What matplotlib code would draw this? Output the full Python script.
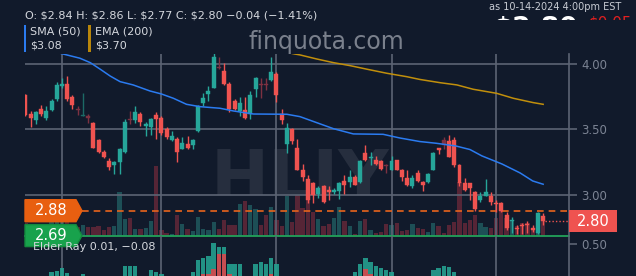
import numpy as np
import matplotlib.pyplot as plt
from matplotlib.patches import Rectangle, Polygon
from matplotlib.transforms import Bbox, TransformedBbox, IdentityTransform

plt.rcParams['text.parse_math'] = False

# daily candles HLIY, 2024-05-22 .. 2024-10-14 (index 0..99)
opens = [3.76, 3.62, 3.57, 3.66, 3.59, 3.65, 3.73, 3.83, 3.85, 3.75,
         3.66, 3.60, 3.60, 3.55, 3.42, 3.33, 3.26, 3.23, 3.25, 3.33,
         3.58, 3.57, 3.62, 3.53, 3.52, 3.61, 3.59, 3.50, 3.42, 3.43,
         3.35, 3.39, 3.38, 3.49, 3.70, 3.77, 3.82, 3.98, 3.95, 3.85,
         3.72, 3.64, 3.65, 3.62, 3.81, 3.85, 3.85, 3.88, 3.92, 3.62,
         3.39, 3.50, 3.36, 3.19, 3.12, 3.09, 3.01, 3.07, 3.04, 3.02,
         3.03, 3.11, 3.10, 3.14, 3.10, 3.32, 3.28, 3.27, 3.26, 3.23,
         3.19, 3.27, 3.19, 3.13, 3.07, 3.17, 3.10, 3.10, 3.19, 3.36,
         3.42, 3.41, 3.42, 3.23, 3.09, 3.09, 3.02, 2.96, 2.99, 2.99,
         2.94, 2.94, 2.85, 2.80, 2.75, 2.77, 2.78, 2.75, 2.71, 2.84]
highs = [3.77, 3.64, 3.64, 3.69, 3.68, 3.73, 3.86, 3.89, 3.91, 3.76,
         3.68, 3.78, 3.62, 3.56, 3.43, 3.34, 3.28, 3.26, 3.36, 3.58,
         3.64, 3.68, 3.63, 3.56, 3.59, 3.63, 3.60, 3.52, 3.49, 3.44,
         3.44, 3.45, 3.43, 3.69, 3.78, 3.83, 4.08, 4.05, 4.01, 3.86,
         3.73, 3.75, 3.75, 3.79, 3.90, 3.89, 3.89, 4.05, 3.94, 3.66,
         3.55, 3.51, 3.43, 3.24, 3.15, 3.10, 3.07, 3.08, 3.07, 3.05,
         3.10, 3.15, 3.19, 3.15, 3.27, 3.38, 3.33, 3.30, 3.27, 3.24,
         3.30, 3.27, 3.20, 3.19, 3.15, 3.19, 3.11, 3.17, 3.33, 3.36,
         3.44, 3.46, 3.44, 3.24, 3.13, 3.09, 3.03, 3.02, 3.12, 3.02,
         2.96, 2.95, 2.87, 2.83, 2.77, 2.79, 2.80, 2.77, 2.87, 2.86]
lows = [3.60, 3.52, 3.54, 3.60, 3.57, 3.64, 3.72, 3.82, 3.72, 3.66,
        3.61, 3.60, 3.55, 3.36, 3.32, 3.28, 3.19, 3.16, 3.16, 3.32,
        3.54, 3.55, 3.53, 3.45, 3.46, 3.43, 3.46, 3.43, 3.41, 3.25,
        3.35, 3.35, 3.35, 3.48, 3.68, 3.72, 3.82, 3.96, 3.84, 3.63,
        3.65, 3.60, 3.58, 3.58, 3.75, 3.74, 3.80, 3.87, 3.71, 3.54,
        3.32, 3.39, 3.19, 3.11, 2.94, 2.94, 2.98, 2.94, 2.96, 3.01,
        2.97, 3.01, 3.06, 3.08, 3.09, 3.26, 3.23, 3.23, 3.19, 3.17,
        3.19, 3.19, 3.11, 3.07, 3.05, 3.10, 3.03, 3.09, 3.19, 3.31,
        3.35, 3.29, 3.21, 3.07, 3.03, 2.96, 2.88, 2.95, 2.99, 2.92,
        2.87, 2.87, 2.73, 2.71, 2.70, 2.70, 2.71, 2.72, 2.70, 2.77]
closes = [3.61, 3.59, 3.63, 3.62, 3.64, 3.72, 3.84, 3.85, 3.73, 3.69,
          3.65, 3.61, 3.59, 3.36, 3.33, 3.29, 3.21, 3.25, 3.35, 3.56,
          3.57, 3.63, 3.56, 3.54, 3.58, 3.58, 3.47, 3.44, 3.45, 3.33,
          3.40, 3.36, 3.42, 3.68, 3.74, 3.79, 4.05, 3.97, 3.85, 3.66,
          3.66, 3.70, 3.59, 3.76, 3.89, 3.84, 3.84, 3.94, 3.76, 3.57,
          3.51, 3.41, 3.19, 3.14, 2.96, 3.00, 3.05, 2.95, 3.02, 3.04,
          3.09, 3.08, 3.14, 3.08, 3.26, 3.27, 3.29, 3.24, 3.20, 3.22,
          3.26, 3.19, 3.14, 3.08, 3.13, 3.11, 3.08, 3.16, 3.32, 3.34,
          3.38, 3.29, 3.23, 3.09, 3.04, 3.05, 2.89, 2.99, 3.02, 2.95,
          2.93, 2.88, 2.75, 2.81, 2.74, 2.76, 2.77, 2.73, 2.86, 2.80]
# candles drawn in a faded colour
faded = [10, 11, 12, 20, 37, 45, 46, 69, 80]

# volume (thousand shares)
volumes = [130, 110, 100, 90, 110, 140, 200, 150, 190, 120,
           90, 110, 93, 93, 103, 60, 87, 100, 443, 167,
           180, 70, 70, 77, 150, 703, 60, 30, 20, 210,
           120, 70, 53, 187, 70, 60, 143, 70, 160, 110,
           110, 320, 353, 310, 270, 110, 210, 287, 160, 103,
           403, 143, 463, 280, 360, 237, 170, 103, 120, 180,
           287, 147, 103, 20, 153, 170, 60, 30, 37, 120,
           110, 130, 53, 60, 120, 80, 70, 43, 130, 103,
           27, 110, 143, 543, 127, 160, 210, 127, 93, 77,
           177, 267, 177, 160, 100, 127, 127, 77, 200, 160]

# moving averages (index, value)
sma_idx = [0, 6.6, 10.4, 12.4, 14.3, 16.2, 18.1, 20.6, 23.8, 26.0, 28.3, 30.8,
           33.4, 37.2, 39.8, 43.6, 50.0, 52.5, 55.7, 58.9, 62.7, 68.4, 71.6,
           75.4, 78.5, 82.3, 85.0, 87.3, 91.1, 94.6, 97.0, 99.0]
sma_val = [4.16, 4.082, 4.044, 4.010, 3.960, 3.908, 3.865, 3.840, 3.794, 3.771,
           3.738, 3.692, 3.674, 3.662, 3.641, 3.618, 3.616, 3.598, 3.552, 3.506,
           3.466, 3.463, 3.435, 3.408, 3.395, 3.374, 3.347, 3.298, 3.237, 3.168,
           3.107, 3.082]
ema_idx = [45, 51.5, 52.5, 55.7, 58.9, 62.1, 65.3, 69.1, 72.9, 75.4, 79.3,
           82.5, 85.6, 90.1, 93.3, 97.1, 99.0]
ema_val = [4.13, 4.076, 4.069, 4.038, 4.010, 3.987, 3.960, 3.929, 3.903, 3.882,
           3.857, 3.840, 3.807, 3.776, 3.738, 3.705, 3.692]

# elder ray (bull / bear power), only the tall ones show
er_idx = [5, 6, 7, 8, 11, 19, 20, 21, 24, 25, 26, 32, 33, 34, 35, 36, 37, 38,
          39, 40, 41, 44, 45, 46, 47, 48, 63, 64, 65, 66, 67, 68, 69, 70,
          78, 79, 80, 81, 82]
er_bull = [0.22, 0.23, 0.26, 0.21, 0.20, 0.28, 0.28, 0.28, 0.24, 0.22, 0.20,
           0.22, 0.34, 0.36, 0.38, 0.51, 0.47, 0.47, 0.30, 0.30, 0.30, 0.30,
           0.32, 0.30, 0.36, 0.30, 0.22, 0.30, 0.36, 0.32, 0.28, 0.26, 0.24,
           0.22, 0.24, 0.26, 0.28, 0.27, 0.22]
er_bear = [0.10, 0.12, 0.15, 0.10, 0.05, 0.05, 0.10, 0.10, 0.05, 0.05, 0.05,
           0.05, 0.10, 0.20, 0.20, 0.25, 0.40, 0.40, 0.20, 0.15, 0.15, 0.10,
           0.15, 0.15, 0.20, 0.10, 0.05, 0.10, 0.25, 0.20, 0.15, 0.10, 0.10,
           0.10, 0.10, 0.15, 0.18, 0.12, 0.05]

month_starts = [7, 26, 48, 70, 90]   # Jun, Jul, Aug, Sep, Oct

BG = '#111a2b'
GRID = '#5c6474'
UP, DOWN = '#26a69a', '#ef5350'
UP_F, DOWN_F = '#1c6a66', '#7d3141'
VUP, VDOWN = '#1d4f56', '#562536'

W, H = 636, 276
fig = plt.figure(figsize=(W / 100, H / 100), dpi=100)
fig.patch.set_facecolor(BG)


def fx(px):
    return px / W


def fy(py):
    return 1 - py / H


# price panel
ax = fig.add_axes([fx(25), fy(236), 544 / W, 182 / H])
ax.set_facecolor('none')
ax.set_xlim(-0.08, 103.94)
ax.set_ylim(2.687, 4.076)

# volume behind the candles
axv = ax.twinx()
axv.set_zorder(ax.get_zorder() - 1)
axv.set_ylim(0, 1820)
axv.axis('off')
xs = np.arange(len(volumes))
vcol = [VUP if c >= o else VDOWN for o, c in zip(opens, closes)]
axv.bar(xs, volumes, width=0.82, color=vcol, linewidth=0)

# candles
for i in range(len(opens)):
    o, h, l, c = opens[i], highs[i], lows[i], closes[i]
    up = c >= o
    if i in faded:
        col = UP_F if up else DOWN_F
    else:
        col = UP if up else DOWN
    ax.vlines(i, l, h, color=col, linewidth=1, zorder=3)
    bot = min(o, c)
    ht = max(abs(c - o), 0.008)
    ax.add_patch(Rectangle((i - 0.38, bot), 0.76, ht, facecolor=col,
                           edgecolor=col, linewidth=0.3, zorder=4))

ax.plot(sma_idx, sma_val, color='#2b7bf0', linewidth=1.1, zorder=5)
ax.plot(ema_idx, ema_val, color='#c18f0c', linewidth=1.1, zorder=5)

# grid / axis
ax.set_yticks([3.0, 3.5, 4.0])
ax.set_yticklabels(['3.00', '3.50', '4.00'])
ax.set_xticks(month_starts)
ax.tick_params(axis='x', length=0, labelbottom=False)
ax.yaxis.tick_right()
ax.tick_params(axis='y', length=6, width=1.2, color=GRID, labelcolor='#7c8494',
               labelsize=8.5, pad=3)
ax.grid(True, color=GRID, linewidth=1.2)
ax.set_axisbelow(True)
for s in ['left', 'top', 'bottom']:
    ax.spines[s].set_visible(False)
ax.spines['right'].set_color(GRID)
ax.spines['right'].set_linewidth(1.2)

# level lines
ax.axhline(2.88, xmin=57 / 544, color='#e8641c', linewidth=1.2,
           linestyle=(0, (4, 3)), zorder=2)
ax.axhline(2.69, color='#22a35a', linewidth=1.3, zorder=6, clip_on=False)
ax.hlines(closes[-1], len(closes) - 0.6, 103.94, color=DOWN, linewidth=1,
          linestyles=(0, (1, 1.5)), zorder=6)

# elder ray panel (runs off the bottom of the image)
axe = fig.add_axes([fx(25), fy(330), 544 / W, 94 / H])
axe.set_facecolor('none')
axe.set_xlim(-0.08, 103.94)
axe.set_ylim(-0.36, 0.58)
axe.bar(er_idx, er_bull, width=0.85, color='#24a090', linewidth=0, alpha=0.9)
axe.bar(er_idx, er_bear, width=0.85, color='#d9474c', linewidth=0, alpha=0.9)
axe.set_yticks([0.5])
axe.set_yticklabels(['0.50'])
axe.set_xticks(month_starts)
axe.tick_params(axis='x', length=0, labelbottom=False)
axe.yaxis.tick_right()
axe.tick_params(axis='y', length=6, width=1.2, color=GRID, labelcolor='#7c8494',
                labelsize=8.5, pad=3)
axe.grid(True, axis='x', color=GRID, linewidth=1.2)
axe.set_axisbelow(True)
for s in ['left', 'top', 'bottom']:
    axe.spines[s].set_visible(False)
axe.spines['right'].set_color(GRID)
axe.spines['right'].set_linewidth(1.2)


def tag_left(price, color, edge):
    yd = ax.transData.transform((0, price))[1]
    pts = [(25, yd - 11), (76, yd - 11), (82, yd), (76, yd + 11), (25, yd + 11)]
    fig.add_artist(Polygon(pts, closed=True, facecolor=color, edgecolor=edge,
                           linewidth=1, transform=IdentityTransform(), zorder=7))
    fig.text(fx(51), yd / H, '%.2f' % price, color='white', fontsize=10.5,
             ha='center', va='center', zorder=8)


def tag_right(price, color):
    yd = ax.transData.transform((0, price))[1]
    fig.add_artist(Rectangle((569, yd - 11), 48, 22, facecolor=color,
                             linewidth=0, transform=IdentityTransform(), zorder=7))
    fig.text(fx(593), yd / H, '%.2f' % price, color='white', fontsize=10.5,
             ha='center', va='center', zorder=8)


tag_left(2.88, '#e85f10', '#e85f10')
tag_left(2.69, '#18a24c', '#138a3e')
tag_right(closes[-1], DOWN)

fig.text(fx(33), fy(247.5), 'Elder Ray 0.01, \u22120.08', color='#d5d8de',
         fontsize=8, ha='left', va='center', zorder=9)

# header
fig.text(fx(25), fy(15), 'O: $2.84 H: $2.86 L: $2.77 C: $2.80 \u22120.04 (\u22121.41%)',
         color='#d5d8de', fontsize=8, ha='left', va='center')
fig.add_artist(Rectangle((fx(24), fy(52)), 2 / W, 27 / H, facecolor='#2b7bf0',
                         linewidth=0, transform=fig.transFigure))
fig.add_artist(Rectangle((fx(88), fy(52)), 3 / W, 27 / H, facecolor='#b8860b',
                         linewidth=0, transform=fig.transFigure))
fig.text(fx(30), fy(31.5), 'SMA (50)', color='#d5d8de', fontsize=8, va='center')
fig.text(fx(30), fy(46), '$3.08', color='#d5d8de', fontsize=8, va='center')
fig.text(fx(95), fy(31.5), 'EMA (200)', color='#d5d8de', fontsize=8, va='center')
fig.text(fx(95), fy(46), '$3.70', color='#d5d8de', fontsize=8, va='center')

fig.text(fx(621), fy(7), 'as 10-14-2024 4:00pm EST', color='#c8ccd4',
         fontsize=7, ha='right', va='center')
top_clip = TransformedBbox(Bbox([[0, fy(20)], [1, 1]]), fig.transFigure)
t1 = fig.text(fx(578), fy(16), '$2.80', color='white', fontsize=19,
              fontweight='bold', ha='right', va='top')
t1.set_clip_box(top_clip)
t1.set_clip_on(True)
t2 = fig.text(fx(589), fy(16), '$0.05', color='#e02020', fontsize=11,
              ha='left', va='top')
t2.set_clip_box(top_clip)
t2.set_clip_on(True)

# watermarks
fig.text(fx(326), fy(42), 'finquota.com', color='#7a808c', fontsize=17,
         ha='center', va='center', zorder=-1)
wm = fig.text(fx(300), fy(147), 'HLIY', color='#262e3e', fontsize=50,
              fontweight='bold', ha='center', va='top', zorder=-1)
wm.set_clip_box(TransformedBbox(Bbox([[0, fy(195)], [1, 1]]), fig.transFigure))
wm.set_clip_on(True)

fig.savefig('out.png', dpi=100, facecolor=BG)
